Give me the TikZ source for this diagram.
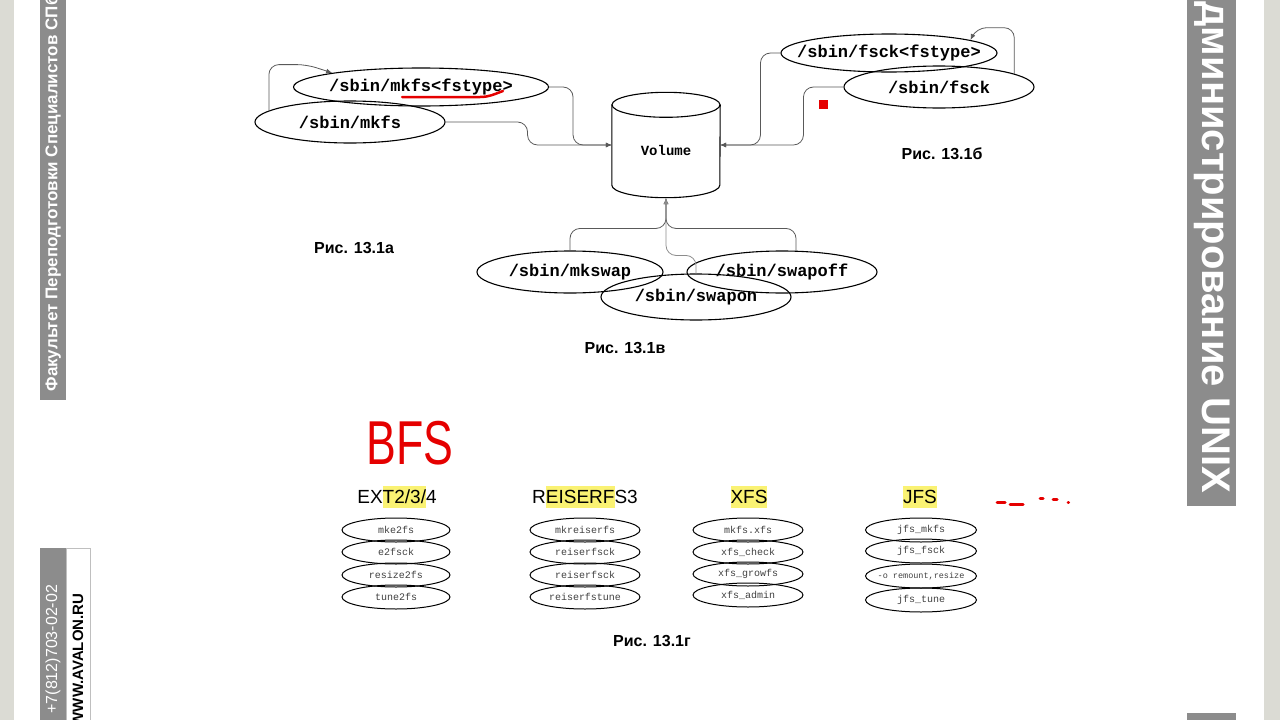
\documentclass[tikz,border=0pt]{standalone}
\usepackage{fontspec}
\setmainfont{Liberation Sans}
\newfontfamily\progfont{Liberation Mono}
\usepackage{tikz}
\usetikzlibrary{arrows.meta, shapes.geometric, calc}
\definecolor{bandGray}{rgb}{0.55, 0.55, 0.55}
\definecolor{stripGray}{rgb}{0.86, 0.86, 0.83}
\definecolor{markYellow}{rgb}{0.98, 0.95, 0.45}
\definecolor{penRed}{rgb}{0.9, 0, 0}
\newlength\markwd
\newcommand\marktext[1]{\settowidth\markwd{#1}{\color{markYellow}\rule[-0.25em]{\markwd}{1.2em}}\kern-\markwd#1}

\begin{document}
\begin{tikzpicture}[x=1pt, y=-1pt, style={line cap = round},
  prog/.style={ellipse, draw, line width=1.1pt, inner xsep=-30pt, inner ysep=0pt, font=\progfont\bfseries\fontsize{17}{19}\selectfont},
  tool/.style={ellipse, draw, line width=1pt, inner xsep=-30pt, inner ysep=0pt, minimum width=108, minimum height=24, text=black!75, font=\progfont\fontsize{10}{11}\selectfont},
  conn/.style={draw=black!65, line width=0.8pt, rounded corners=10pt, -{Latex[length=6pt, width=5pt]}},
  cyl/.style={draw, line width=1.1pt},
  caption/.style={font=\bfseries\fontsize{16}{18}\selectfont},
  hdr/.style={font=\fontsize{19}{21}\selectfont}]
  \useasboundingbox (0,0) rectangle (1280,720);
  \clip (0,0) rectangle (1280,720);
  % side bars
  \fill[stripGray] (0,0) rectangle (14,720);
  \fill[stripGray] (1264,0) rectangle (1280,720);
  \fill[bandGray] (40,0) rectangle (66,400);
  \node[rotate=90, anchor=west, text=white, font=\bfseries\fontsize{17}{19}\selectfont] (faculty) at (53,395) {Факультет Переподготовки Специалистов СПб};
  \fill[bandGray] (40,548) rectangle (66,720);
  \draw[black!25] (66,548) rectangle (90,721);
  \node[rotate=90, anchor=west, text=white, font=\fontsize{16}{18}\selectfont] (phone) at (53,717) {+7(812)703-02-02};
  \node[rotate=90, anchor=east, font=\bfseries\fontsize{15}{17}\selectfont] (site) at (78,590) {WWW.AVALON.RU};
  \fill[bandGray] (1187,0) rectangle (1236,506);
  \fill[bandGray] (1187,713) rectangle (1236,720);
  \node[rotate=-90, anchor=east, text=white, font=\bfseries\fontsize{40}{44}\selectfont] (course) at (1212,497) {Администрирование UNIX};

  % volume
  \node[minimum width=108, minimum height=80, inner sep=0pt, text height=20pt, text depth=0pt, font=\progfont\bfseries\fontsize{14}{16}\selectfont] (vol) at (666,145) {Volume};
  \draw[cyl] (vol.north west) -- (vol.south west) arc[start angle=180, end angle=0, x radius=54, y radius=12.5] -- (vol.north east);
  \draw[cyl] (vol.north) ellipse[x radius=54, y radius=12.5];
  \coordinate (vbot) at ([yshift=-13pt]vol.south);

  \node[prog, minimum width=255, minimum height=38] (mkfsT) at (421,87) {/sbin/mkfs<fstype>};
  \node[prog, minimum width=190, minimum height=42] (mkfs) at (350,122) {/sbin/mkfs};
  \node[prog, minimum width=216, minimum height=38] (fsckT) at (889,53) {/sbin/fsck<fstype>};
  \node[prog, minimum width=190, minimum height=42] (fsck) at (939,87) {/sbin/fsck};
  \node[prog, minimum width=186, minimum height=42] (mkswap) at (570,272) {/sbin/mkswap};
  \node[prog, minimum width=190, minimum height=42] (swapoff) at (782,272) {/sbin/swapoff};
  \node[prog, minimum width=190, minimum height=46] (swapon) at (696,297) {/sbin/swapon};

  \draw[conn] (mkfsT.east) -- ++(24,0) |- (vol.west);
  \draw[conn] (mkfs.east) -- ++(82,0) |- (vol.west);
  \draw[conn] (mkfs.172) |- ++(38,-46) -- (mkfsT.171);
  \draw[conn] (fsckT.west) -- ++(-20,0) |- (vol.east);
  \draw[conn] (fsck.west) -- ++(-40,0) |- (vol.east);
  \draw[conn] (fsck.10) |- ++(-38,-46) -- (fsckT.9);
  \draw[conn] (mkswap.north) -- ++(0,-22) -| (vbot);
  \draw[conn] ([xshift=14pt]swapoff.north) -- ++(0,-22) -| (vbot);
  \draw[conn, draw=black!45] (swapon.north) -- ++(0,-18) -| (vbot);

  \node[caption] (capA) at (354,248) {Рис. 13.1а};
  \node[caption] (capB) at (942,154) {Рис. 13.1б};
  \node[caption] (capC) at (625,348) {Рис. 13.1в};
  \node[caption] (capD) at (652,641) {Рис. 13.1г};

  % pen marks
  \draw[penRed, line width=2.5pt] (402,97) -- (480,97) to[out=0, in=200] (503,91);
  \fill[penRed] (819,100) rectangle (828,109);
  \node[text=penRed, xscale=0.72, transform shape, font=\fontsize{62}{64}\selectfont] (bfs) at (410,443) {BFS};
  \draw[penRed, line width=3pt] (997,502) -- (1005,502) (1010,504) -- (1023,504) (1040,498) -- (1043,498) (1053,499) -- (1057,499) (1068,502) -- (1068.5,502);

  % file system groups
  \node[hdr] (hExt) at (397,497) {EX\marktext{T2/3/}4};
  \node[hdr] (hReis) at (585,497) {R\marktext{EISERF}S3};
  \node[hdr] (hXfs) at (749,497) {\marktext{XFS}};
  \node[hdr] (hJfs) at (920,497) {\marktext{JFS}};

  \node[tool] (ext1) at (396,530) {mke2fs};
  \node[tool] (ext2) at (396,552) {e2fsck};
  \node[tool] (ext3) at (396,575) {resize2fs};
  \node[tool] (ext4) at (396,597) {tune2fs};
  \node[tool, minimum width=110] (rfs1) at (585,530) {mkreiserfs};
  \node[tool, minimum width=110] (rfs2) at (585,552) {reiserfsck};
  \node[tool, minimum width=110] (rfs3) at (585,575) {reiserfsck};
  \node[tool, minimum width=110] (rfs4) at (585,597) {reiserfstune};
  \node[tool, minimum width=110] (xfs1) at (748,530) {mkfs.xfs};
  \node[tool, minimum width=110] (xfs2) at (748,552) {xfs\_check};
  \node[tool, minimum width=110] (xfs3) at (748,574) {xfs\_growfs};
  \node[tool, minimum width=110] (xfs4) at (748,595) {xfs\_admin};
  \node[tool, minimum width=111] (jfs1) at (921,530) {jfs\_mkfs};
  \node[tool, minimum width=111] (jfs2) at (921,551) {jfs\_fsck};
  \node[tool, minimum width=111, font=\progfont\fontsize{8.5}{10}\selectfont] (jfs3) at (921,576) {-o remount,resize};
  \node[tool, minimum width=111] (jfs4) at (921,600) {jfs\_tune};
\end{tikzpicture}
\end{document}
